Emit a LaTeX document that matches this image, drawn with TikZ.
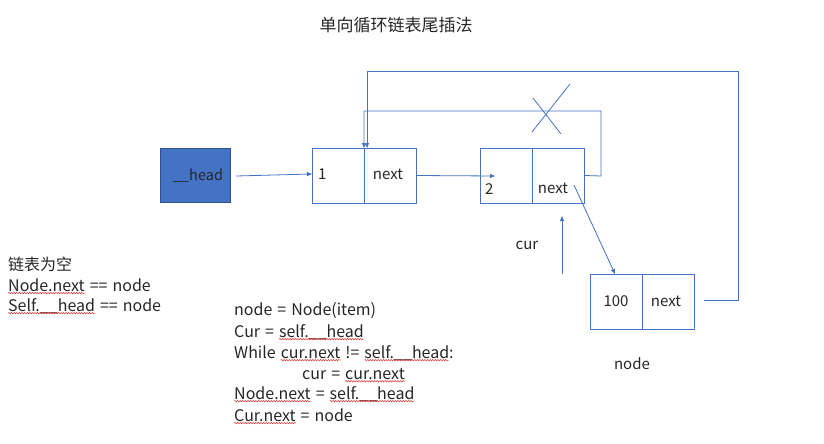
\documentclass[tikz,border=0pt]{standalone}
\usepackage{fontspec}
\setmainfont{Noto Sans CJK SC}[WordSpace={1.4,1,1}]
\usetikzlibrary{arrows.meta,decorations.pathmorphing}
\definecolor{lblue}{HTML}{4472C4}
\definecolor{dblue}{HTML}{2F528F}
\definecolor{sqred}{HTML}{E03030}
\newcommand\squig[1]{\tikz[baseline=(w.base)]{\node[inner sep=0pt,outer sep=0pt] (w) {#1};\draw[overlay,sqred,line width=0.5pt,decorate,decoration={snake,amplitude=0.7pt,segment length=2.6pt}] ([yshift=-1.8pt]w.base west) -- ([yshift=-1.8pt]w.base east);}}
\begin{document}
\begin{tikzpicture}[x=1pt,y=-1pt,
  txt/.style={inner sep=0pt,font=\fontsize{15}{17}\selectfont,text=black!85},
  big/.style={txt,font=\fontsize{16}{18}\selectfont},
  cell/.style={draw=lblue,line width=0.8pt,minimum width=52pt,minimum height=55pt,inner sep=0pt},
  conn/.style={draw=lblue,line width=0.8pt,-{Triangle[length=5pt,width=4pt]}},
  plain/.style={draw=lblue,line width=0.8pt}]
\useasboundingbox (0,0) rectangle (824,444);
\node[txt,font=\fontsize{17}{19}\selectfont] (title) at (396,25) {单向循环链表尾插法};
% head box
\node[draw=dblue,fill=lblue,line width=0.8pt,minimum width=70pt,minimum height=54pt,inner sep=0pt] (head) at (195,175) {};
\node[txt,font=\fontsize{14.5}{16}\selectfont] (headt) at (198,176) {\_\_head};
% node 1
\node[cell] (n1a) at (338,175.5) {};
\node[cell] (n1b) at (390,175.5) {};
\node[txt,anchor=west] (n1v) at (318,174) {1};
\node[txt] (n1n) at (388,174) {next};
% node 2
\node[cell] (n2a) at (506,175.5) {};
\node[cell] (n2b) at (558,175.5) {};
\node[txt,anchor=west] (n2v) at (485,189) {2};
\node[txt] (n2n) at (553,188) {next};
% node 100
\node[cell] (n3a) at (616,301.5) {};
\node[cell] (n3b) at (668,301.5) {};
\node[txt] (n3v) at (616,301) {100};
\node[txt] (n3n) at (666,301) {next};
% connectors
\coordinate (h1) at (236,176);
\coordinate (h2) at (312,174);
\draw[conn] (h1) -- (h2);
\coordinate (a2) at (495,176);
\draw[conn] (n1b.east) -- (a2);
% old loop
\coordinate (o1) at (601,176);
\coordinate (o2) at (601,111);
\coordinate (o3) at (364,111);
\coordinate (o4) at (364,148);
\draw[conn] (n2b.east) -- (o1) -- (o2) -- (o3) -- (o4);
% cross
\coordinate (x1) at (533,98);
\coordinate (x2) at (561,134);
\coordinate (x3) at (570,84);
\coordinate (x4) at (532,132);
\draw[plain] (x1) -- (x2);
\draw[plain] (x3) -- (x4);
% new loop
\coordinate (p0) at (704,300);
\coordinate (p1) at (738,300);
\coordinate (p2) at (738,71);
\coordinate (p3) at (367,71);
\coordinate (p4) at (367,148);
\draw[conn] (p0) -- (p1) -- (p2) -- (p3) -- (p4);
% next to 100
\coordinate (q1) at (574,185);
\coordinate (q2) at (615,274);
\draw[conn] (q1) -- (q2);
% cur
\coordinate (c1) at (562,274);
\coordinate (c2) at (562,216);
\draw[conn] (c1) -- (c2);
\node[txt] (cur) at (527,245) {cur};
\node[txt] (nodelbl) at (632,364) {node};
% left text
\node[big,anchor=west] (l1) at (8,264) {链表为空};
\node[big,anchor=west] (l2) at (8,285) {\squig{Node.next} == node};
\node[big,anchor=west] (l3) at (8,306) {\squig{Self.\_\_head} == node};
% code
\node[big,anchor=west] (k1) at (234,311) {node = Node(item)};
\node[big,anchor=west] (k2) at (234,332) {Cur = \squig{self.\_\_head}};
\node[big,anchor=west] (k3) at (234,353) {While \squig{cur.next} != \squig{self.\_\_head}:};
\node[big,anchor=west] (k4) at (302,374) {cur = \squig{cur.next}};
\node[big,anchor=west] (k5) at (234,394) {\squig{Node.next} = \squig{self.\_\_head}};
\node[big,anchor=west] (k6) at (234,415) {\squig{Cur.next} = node};
\end{tikzpicture}
\end{document}
